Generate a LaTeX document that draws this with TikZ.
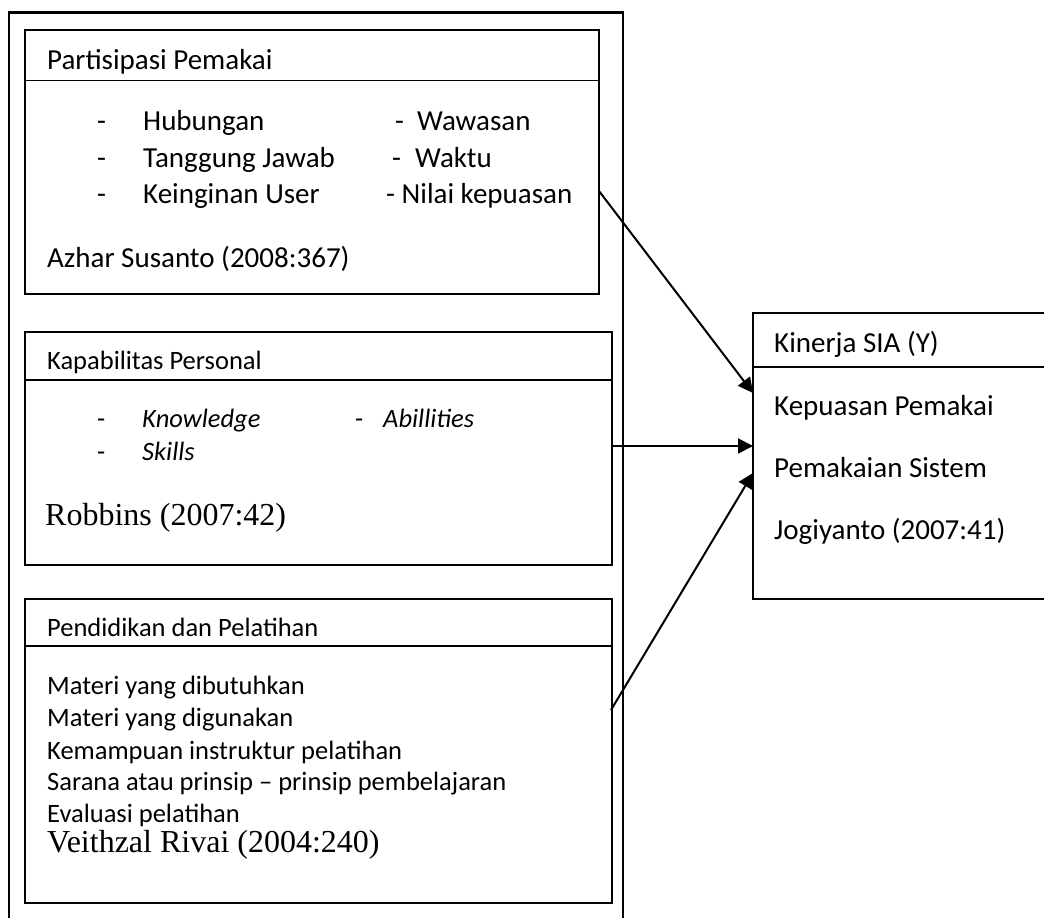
\documentclass[tikz,border=0pt]{standalone}
\usepackage{fontspec}
\setmainfont{Carlito}
\newfontfamily\tnr{Liberation Serif}
\usetikzlibrary{arrows.meta}
\begin{document}
\begin{tikzpicture}[x=1pt,y=-1pt,
  box/.style={draw, line width=1.8pt, rectangle, inner sep=0pt, outer sep=0pt, anchor=north west},
  hline/.style={line width=1.8pt},
  big/.style={anchor=base west, inner sep=0pt, font=\fontsize{29}{34}\selectfont},
  sml/.style={anchor=base west, inner sep=0pt, font=\fontsize{26.5}{32}\selectfont},
  tms/.style={anchor=base west, inner sep=0pt, font=\tnr\fontsize{32}{38}\selectfont},
  arr/.style={line width=2pt, -{Triangle[length=15pt,width=15pt]}}]
\useasboundingbox (0,0) rectangle (1044,918);
\clip (0,0) rectangle (1044,918);
% outer frame
\node[box, line width=2.2pt, minimum width=614pt, minimum height=940pt] (frame) at (9,12.5) {};
% box 1
\node[box, minimum width=574pt, minimum height=264pt] (p1) at (25,30) {};
\draw[hline] (p1.west |- 0,80.5) -- (p1.east |- 0,80.5);
\node[big] (t1) at (47,69) {Partisipasi Pemakai};
\node[big] (d11) at (97,130) {-};
\node[big] (i11) at (143,130) {Hubungan};
\node[big] (d12) at (97,167) {-};
\node[big] (i12) at (143,167) {Tanggung Jawab};
\node[big] (d13) at (97,203) {-};
\node[big] (i13) at (143,203) {Keinginan User};
\node[big] (d14) at (395,130) {-};
\node[big] (i14) at (417,130) {Wawasan};
\node[big] (d15) at (392,167) {-};
\node[big] (i15) at (415,167) {Waktu};
\node[big] (i16) at (386,203) {- Nilai kepuasan};
\node[big] (r1) at (47,267) {Azhar Susanto (2008:367)};
% box 2
\node[box, minimum width=587pt, minimum height=233pt] (p2) at (25,332) {};
\draw[hline] (p2.west |- 0,380) -- (p2.east |- 0,380);
\node[sml] (t2) at (47,369) {Kapabilitas Personal};
\node[sml] (d21) at (97,427) {-};
\node[sml] (i21) at (142,427) {\itshape Knowledge};
\node[sml] (d22) at (355,427) {-};
\node[sml] (i22) at (383,427) {\itshape Abillities};
\node[sml] (d23) at (97,460) {-};
\node[sml] (i23) at (142,460) {\itshape Skills};
\node[tms] (r2) at (45,525) {Robbins (2007:42)};
% box 3
\node[box, minimum width=587pt, minimum height=304pt] (p3) at (25,599) {};
\draw[hline] (p3.west |- 0,646) -- (p3.east |- 0,646);
\node[sml] (t3) at (47,636) {Pendidikan dan Pelatihan};
\node[sml] (i31) at (47,694) {Materi yang dibutuhkan};
\node[sml] (i32) at (47,726) {Materi yang digunakan};
\node[sml] (i33) at (47,759) {Kemampuan instruktur pelatihan};
\node[sml] (i34) at (47,790) {Sarana atau prinsip – prinsip pembelajaran};
\node[sml] (i35) at (47,822) {Evaluasi pelatihan};
\node[tms] (r3) at (47,852) {Veithzal Rivai (2004:240)};
% right box
\node[box, minimum width=320pt, minimum height=286pt] (y) at (753,313) {};
\draw[hline] (y.west |- 0,367) -- (y.east |- 0,367);
\node[big] (ty) at (774,352) {Kinerja SIA (Y)};
\node[big] (y1) at (774,415) {Kepuasan Pemakai};
\node[big] (y2) at (774,477) {Pemakaian Sistem};
\node[big] (ry) at (774,539) {Jogiyanto (2007:41)};
% arrows
\coordinate (a1s) at (599,191);
\coordinate (a1e) at (753,393);
\coordinate (a2s) at (611,446);
\coordinate (a2e) at (753,446);
\coordinate (a3s) at (611,710);
\coordinate (a3e) at (753,473);
\draw[arr] (a1s) -- (a1e);
\draw[arr] (a2s) -- (a2e);
\draw[arr] (a3s) -- (a3e);
\end{tikzpicture}
\end{document}
